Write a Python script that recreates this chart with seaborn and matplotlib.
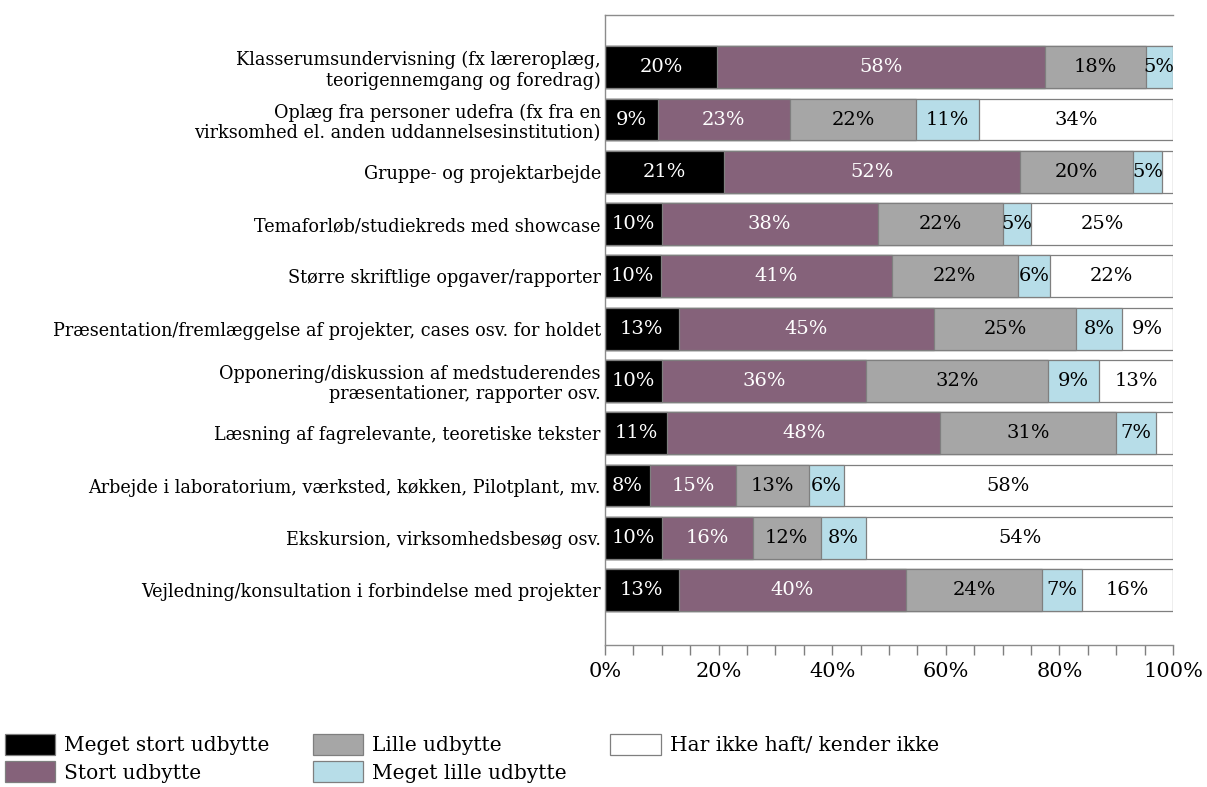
import numpy as np
import pandas as pd
import matplotlib
matplotlib.use("Agg")
import matplotlib.pyplot as plt
from matplotlib.patches import Patch
from matplotlib.ticker import MultipleLocator, FixedLocator
import seaborn as sns

sns.set_style("white")
plt.rcParams['font.family'] = ['DejaVu Serif']
plt.rcParams['text.color'] = 'black'
plt.rcParams['xtick.color'] = 'black'
plt.rcParams['ytick.color'] = 'black'

categories = [
    "Klasserumsundervisning (fx læreroplæg,\nteorigennemgang og foredrag)",
    "Oplæg fra personer udefra (fx fra en\nvirksomhed el. anden uddannelsesinstitution)",
    "Gruppe- og projektarbejde",
    "Temaforløb/studiekreds med showcase",
    "Større skriftlige opgaver/rapporter",
    "Præsentation/fremlæggelse af projekter, cases osv. for holdet",
    "Opponering/diskussion af medstuderendes\npræsentationer, rapporter osv.",
    "Læsning af fagrelevante, teoretiske tekster",
    "Arbejde i laboratorium, værksted, køkken, Pilotplant, mv.",
    "Ekskursion, virksomhedsbesøg osv.",
    "Vejledning/konsultation i forbindelse med projekter",
]
series = ["Meget stort udbytte", "Stort udbytte", "Lille udbytte",
          "Meget lille udbytte", "Har ikke haft/ kender ikke"]
# percentages (labels in the chart are these rounded)
meget_stort = [19.8, 9.3, 21, 10, 9.8, 13, 10, 11, 8, 10, 13]
stort = [57.6, 23.2, 52, 38, 40.7, 45, 36, 48, 15, 16, 40]
lille = [17.8, 22.3, 20, 22, 22.2, 25, 32, 31, 13, 12, 24]
meget_lille = [4.8, 11.1, 5, 5, 5.6, 8, 9, 7, 6, 8, 7]
har_ikke = [0, 34.1, 2, 25, 21.7, 9, 13, 3, 58, 54, 16]
colors = ["#000000", "#85627a", "#a6a6a6", "#b7dde8", "#ffffff"]
text_colors = ["white", "white", "black", "black", "black"]

df = pd.DataFrame({"kategori": categories})
for name, vals in zip(series, [meget_stort, stort, lille, meget_lille, har_ikke]):
    df[name] = vals
cum = df[series].cumsum(axis=1)

fig = plt.figure(figsize=(12.07, 7.87), dpi=100)
ax = fig.add_axes([0.5012, 0.1804, 0.4706, 0.8006])

# stacked bars: draw the cumulative totals from the largest down
for k in range(len(series) - 1, -1, -1):
    sns.barplot(x=cum[series[k]], y=df["kategori"], color=colors[k], orient="h",
                width=0.8, edgecolor="#7f7f7f", linewidth=0.9, saturation=1, ax=ax)

for i in range(len(categories)):
    for k, name in enumerate(series):
        v = df[name][i]
        if v < 4:
            continue
        ax.text(cum[name][i] - v / 2, i, f"{v:.0f}%", ha="center", va="center",
                color=text_colors[k], fontsize=14)

ax.set_xlim(0, 100)
ax.set_ylim(11.05, -1)
ax.set_xlabel("")
ax.set_ylabel("")
ax.xaxis.set_major_locator(FixedLocator([0, 20, 40, 60, 80, 100]))
ax.xaxis.set_minor_locator(MultipleLocator(5))
ax.set_xticklabels(["0%", "20%", "40%", "60%", "80%", "100%"])
ax.tick_params(axis="x", which="both", length=7, color="#7f7f7f", width=1,
               direction="out", bottom=True, labelsize=15, pad=5)
ax.tick_params(axis="y", length=0, labelsize=12.7, pad=3)
for lbl in ax.get_yticklabels():
    lbl.set_linespacing(1.15)
for s in ["left", "bottom", "top"]:
    ax.spines[s].set_color("#8c8c8c")
    ax.spines[s].set_linewidth(1)
ax.spines["right"].set_visible(False)

handles = [Patch(facecolor=c, edgecolor="#7f7f7f", linewidth=0.9) for c in colors]
fig.legend(handles, series, loc="upper left", bbox_to_anchor=(0.004, 0.067), ncol=3,
           frameon=False, fontsize=14.5, handlelength=2.5, handleheight=1.2,
           handletextpad=0.45, columnspacing=2.15, labelspacing=0.3, borderpad=0.0,
           borderaxespad=0.0)

fig.savefig("out.png", dpi=100)
